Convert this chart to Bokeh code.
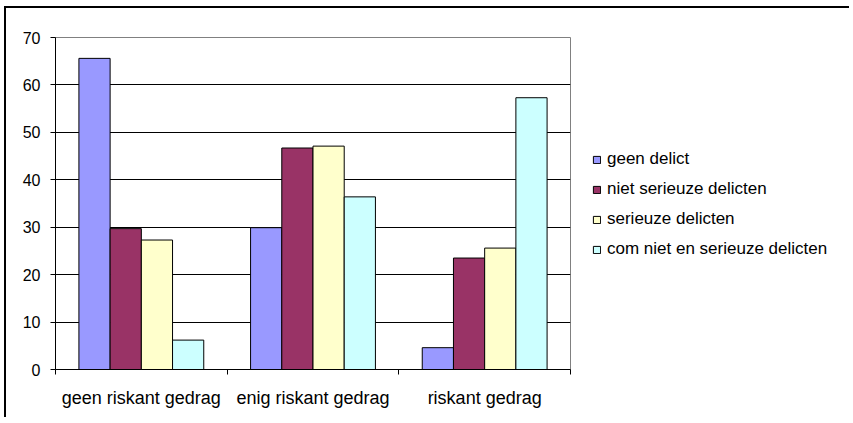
from bokeh.plotting import figure
from bokeh.models import FixedTicker, Legend, LegendItem, ColumnDataSource, Range1d
from bokeh.embed import file_html
from bokeh.resources import INLINE

categories = ["geen riskant gedrag", "enig riskant gedrag", "riskant gedrag"]
series = ["geen delict", "niet serieuze delicten", "serieuze delicten", "com niet en serieuze delicten"]
geen_delict = [65.6, 29.9, 4.6]
niet_serieuze = [29.7, 46.7, 23.5]
serieuze = [27.3, 47.1, 25.6]
com_niet_en_serieuze = [6.2, 36.4, 57.3]
y_ticks = [0, 10, 20, 30, 40, 50, 60, 70]

values = [geen_delict, niet_serieuze, serieuze, com_niet_en_serieuze]
colors = ["#9999FF", "#993366", "#FFFFCC", "#CCFFFF"]

FONT = "Liberation Sans"

p = figure(output_backend="svg", toolbar_location=None,
           x_range=Range1d(0, 3), y_range=Range1d(0, 70),
           min_border_left=49, min_border_top=29, min_border_bottom=48, min_border_right=150,
           styles={"position": "relative", "left": "4px", "top": "6px",
                   "max-width": "845px", "overflow": "hidden",
                   "border-top": "2px solid black", "border-left": "2px solid black"})
p.frame_width = 515
p.frame_height = 332

p.outline_line_color = "#808080"
p.outline_line_width = 1
p.background_fill_color = "white"
p.border_fill_color = "white"

p.xgrid.grid_line_color = None
p.ygrid.grid_line_color = "black"
p.ygrid.grid_line_width = 1
p.ygrid.ticker = FixedTicker(ticks=y_ticks)

p.yaxis.ticker = FixedTicker(ticks=y_ticks)
p.yaxis.axis_line_color = "black"
p.yaxis.major_tick_line_color = "black"
p.yaxis.major_tick_out = 5
p.yaxis.major_tick_in = 0
p.yaxis.minor_tick_line_color = None
p.yaxis.major_label_text_font = FONT
p.yaxis.major_label_text_font_size = "16px"
p.yaxis.major_label_text_color = "black"
p.yaxis.major_label_standoff = 10

centers = [i + 0.5 for i in range(len(categories))]
p.xaxis.ticker = FixedTicker(ticks=centers, minor_ticks=[0, 1, 2, 3])
p.xaxis.major_label_overrides = {c: categories[i] for i, c in enumerate(centers)}
p.xaxis.major_tick_line_color = None
p.xaxis.major_tick_out = 5
p.xaxis.major_tick_in = 0
p.xaxis.minor_tick_line_color = "black"
p.xaxis.minor_tick_out = 5
p.xaxis.minor_tick_in = 0
p.xaxis.axis_line_color = "black"
p.xaxis.major_label_text_font = FONT
p.xaxis.major_label_text_font_size = "18px"
p.xaxis.major_label_text_color = "black"
p.xaxis.major_label_standoff = 13

slots = len(series) + 1.5
bw = 1.0 / slots
items = []
for j, (name, vals, col) in enumerate(zip(series, values, colors)):
    xs = [i + (0.75 + j + 0.5) * bw for i in range(len(categories))]
    src = ColumnDataSource(dict(x=xs, top=vals))
    r = p.vbar(x="x", top="top", width=bw, bottom=0, source=src,
               fill_color=col, line_color="black", line_width=1)
    items.append(LegendItem(label=name, renderers=[r]))

legend = Legend(items=items, location=(22, 110), orientation="vertical",
                label_text_font=FONT, label_text_font_size="17px", label_text_color="black",
                glyph_width=9, glyph_height=9, label_standoff=6,
                label_height=20, spacing=10, padding=0, margin=0,
                border_line_color=None, background_fill_alpha=0)
p.add_layout(legend, "right")

open("out.html", "w").write(file_html(p, INLINE))
